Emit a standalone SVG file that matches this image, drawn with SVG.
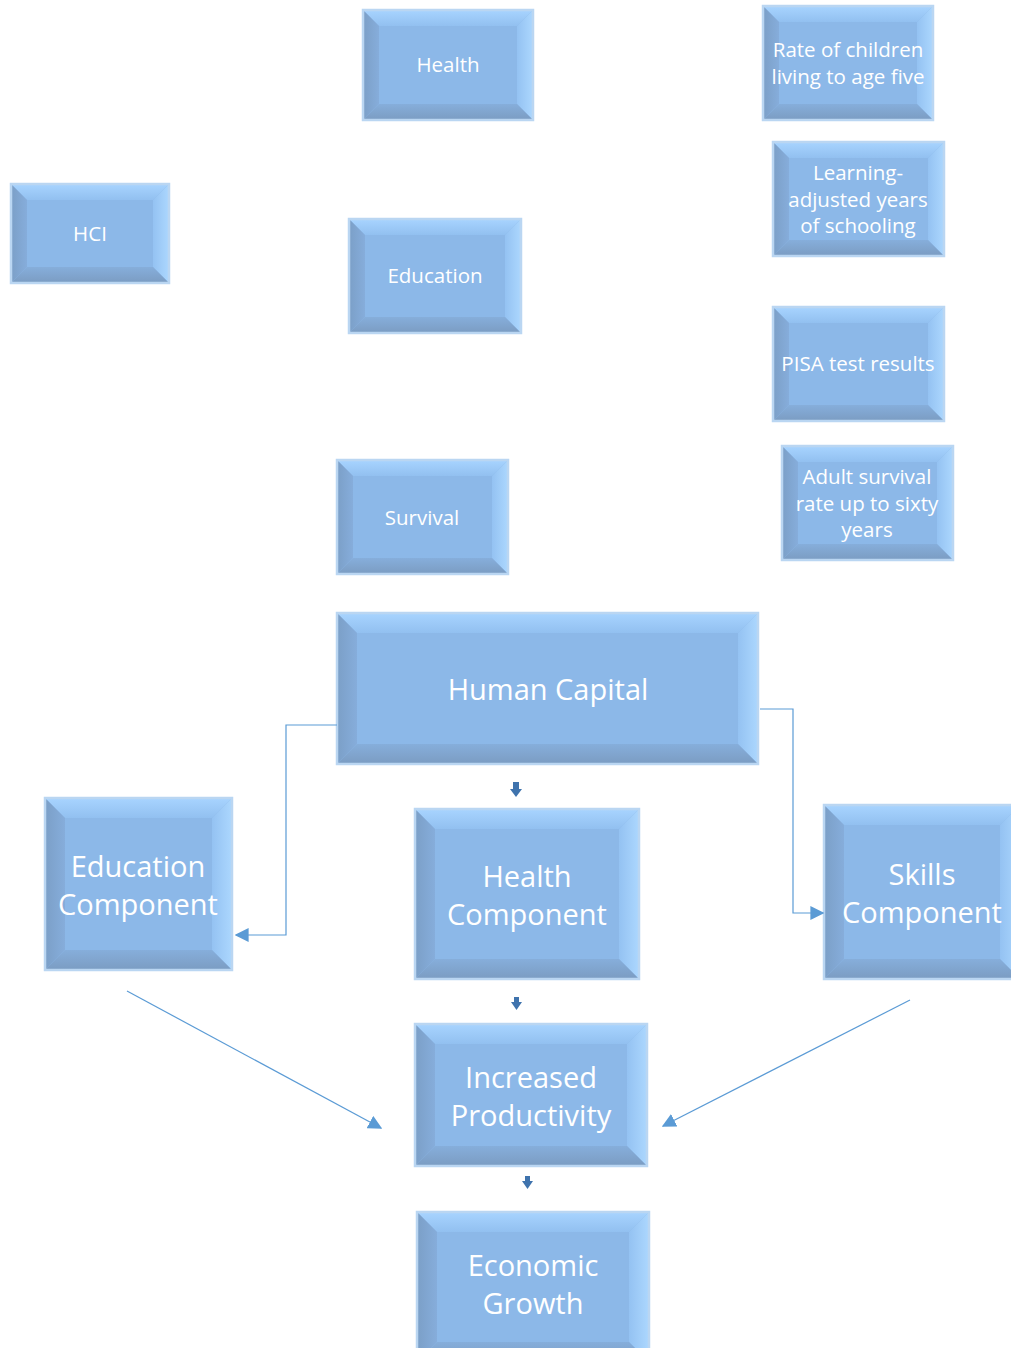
<svg xmlns="http://www.w3.org/2000/svg" width="1011" height="1348" viewBox="0 0 1011 1348">
<style>
.face{fill:#8cb8e8}
.brd{fill:none;stroke:#bad6f2;stroke-width:2.5}
.t{fill:url(#gt)}
.l{fill:url(#gl)}
.r{fill:url(#gr)}
.b{fill:url(#gb)}
.tx{fill:#ffffff;font-family:"Open Sans",Lato,sans-serif;text-anchor:middle;dominant-baseline:central}
.s{font-size:20.5px}
.g{font-size:29px}
.con{fill:none;stroke:#5b9bd5;stroke-width:1.2}
.blk{fill:#3f73ad}
</style>
<defs>
<linearGradient id="gt" x1="0" y1="0" x2="0" y2="1"><stop offset="0" stop-color="#a8d4ff"/><stop offset="1" stop-color="#92c0f0"/></linearGradient>
<linearGradient id="gl" x1="0" y1="0" x2="1" y2="0"><stop offset="0" stop-color="#7b9fc7"/><stop offset="1" stop-color="#86addb"/></linearGradient>
<linearGradient id="gr" x1="0" y1="0" x2="1" y2="0"><stop offset="0" stop-color="#94c2f2"/><stop offset="1" stop-color="#acd7fe"/></linearGradient>
<linearGradient id="gb" x1="0" y1="0" x2="0" y2="1"><stop offset="0" stop-color="#86aedb"/><stop offset="1" stop-color="#7b9cc2"/></linearGradient>
<marker id="ah" viewBox="0 0 10 10" refX="9" refY="5" markerWidth="14" markerHeight="14" markerUnits="userSpaceOnUse" orient="auto">
<path d="M0,0 L10,5 L0,10 Z" fill="#5b9bd5"/>
</marker>
</defs>

<g id="health">
<rect class="face" x="363" y="10" width="170" height="110"/>
<polygon class="t" points="363,10 533,10 517,26 379,26"/>
<polygon class="l" points="363,10 379,26 379,104 363,120"/>
<polygon class="r" points="533,10 533,120 517,104 517,26"/>
<polygon class="b" points="363,120 533,120 517,104 379,104"/>
<rect class="brd" x="363" y="10" width="170" height="110"/>
<text class="tx s" x="448" y="64">Health</text>
</g>

<g id="hci">
<rect class="face" x="11" y="184" width="158" height="99"/>
<polygon class="t" points="11,184 169,184 153,200 27,200"/>
<polygon class="l" points="11,184 27,200 27,267 11,283"/>
<polygon class="r" points="169,184 169,283 153,267 153,200"/>
<polygon class="b" points="11,283 169,283 153,267 27,267"/>
<rect class="brd" x="11" y="184" width="158" height="99"/>
<text class="tx s" x="90" y="233">HCI</text>
</g>

<g id="education">
<rect class="face" x="349" y="219" width="172" height="114"/>
<polygon class="t" points="349,219 521,219 505,235 365,235"/>
<polygon class="l" points="349,219 365,235 365,317 349,333"/>
<polygon class="r" points="521,219 521,333 505,317 505,235"/>
<polygon class="b" points="349,333 521,333 505,317 365,317"/>
<rect class="brd" x="349" y="219" width="172" height="114"/>
<text class="tx s" x="435" y="275">Education</text>
</g>

<g id="survival">
<rect class="face" x="337" y="460" width="171" height="114"/>
<polygon class="t" points="337,460 508,460 492,476 353,476"/>
<polygon class="l" points="337,460 353,476 353,558 337,574"/>
<polygon class="r" points="508,460 508,574 492,558 492,476"/>
<polygon class="b" points="337,574 508,574 492,558 353,558"/>
<rect class="brd" x="337" y="460" width="171" height="114"/>
<text class="tx s" x="422" y="517">Survival</text>
</g>

<g id="rate">
<rect class="face" x="763" y="6" width="170" height="114"/>
<polygon class="t" points="763,6 933,6 917,22 779,22"/>
<polygon class="l" points="763,6 779,22 779,104 763,120"/>
<polygon class="r" points="933,6 933,120 917,104 917,22"/>
<polygon class="b" points="763,120 933,120 917,104 779,104"/>
<rect class="brd" x="763" y="6" width="170" height="114"/>
<text class="tx s" x="848" y="49">Rate of children</text>
<text class="tx s" x="848" y="76">living to age five</text>
</g>

<g id="learning">
<rect class="face" x="773" y="142" width="171" height="114"/>
<polygon class="t" points="773,142 944,142 928,158 789,158"/>
<polygon class="l" points="773,142 789,158 789,240 773,256"/>
<polygon class="r" points="944,142 944,256 928,240 928,158"/>
<polygon class="b" points="773,256 944,256 928,240 789,240"/>
<rect class="brd" x="773" y="142" width="171" height="114"/>
<text class="tx s" x="858" y="172">Learning-</text>
<text class="tx s" x="858" y="199">adjusted years</text>
<text class="tx s" x="858" y="225">of schooling</text>
</g>

<g id="pisa">
<rect class="face" x="773" y="307" width="171" height="114"/>
<polygon class="t" points="773,307 944,307 928,323 789,323"/>
<polygon class="l" points="773,307 789,323 789,405 773,421"/>
<polygon class="r" points="944,307 944,421 928,405 928,323"/>
<polygon class="b" points="773,421 944,421 928,405 789,405"/>
<rect class="brd" x="773" y="307" width="171" height="114"/>
<text class="tx s" x="858" y="363">PISA test results</text>
</g>

<g id="adult">
<rect class="face" x="782" y="446" width="171" height="114"/>
<polygon class="t" points="782,446 953,446 937,462 798,462"/>
<polygon class="l" points="782,446 798,462 798,544 782,560"/>
<polygon class="r" points="953,446 953,560 937,544 937,462"/>
<polygon class="b" points="782,560 953,560 937,544 798,544"/>
<rect class="brd" x="782" y="446" width="171" height="114"/>
<text class="tx s" x="867" y="476">Adult survival</text>
<text class="tx s" x="867" y="503">rate up to sixty</text>
<text class="tx s" x="867" y="529">years</text>
</g>

<g id="human-capital">
<rect class="face" x="337" y="613" width="421" height="151"/>
<polygon class="t" points="337,613 758,613 738,633 357,633"/>
<polygon class="l" points="337,613 357,633 357,744 337,764"/>
<polygon class="r" points="758,613 758,764 738,744 738,633"/>
<polygon class="b" points="337,764 758,764 738,744 357,744"/>
<rect class="brd" x="337" y="613" width="421" height="151"/>
<text class="tx g" x="548" y="688">Human Capital</text>
</g>

<g id="education-component">
<rect class="face" x="45" y="798" width="187" height="172"/>
<polygon class="t" points="45,798 232,798 212,818 65,818"/>
<polygon class="l" points="45,798 65,818 65,950 45,970"/>
<polygon class="r" points="232,798 232,970 212,950 212,818"/>
<polygon class="b" points="45,970 232,970 212,950 65,950"/>
<rect class="brd" x="45" y="798" width="187" height="172"/>
<text class="tx g" x="138" y="865">Education</text>
<text class="tx g" x="138" y="903">Component</text>
</g>

<g id="health-component">
<rect class="face" x="415" y="809" width="224" height="170"/>
<polygon class="t" points="415,809 639,809 619,829 435,829"/>
<polygon class="l" points="415,809 435,829 435,959 415,979"/>
<polygon class="r" points="639,809 639,979 619,959 619,829"/>
<polygon class="b" points="415,979 639,979 619,959 435,959"/>
<rect class="brd" x="415" y="809" width="224" height="170"/>
<text class="tx g" x="527" y="875">Health</text>
<text class="tx g" x="527" y="913">Component</text>
</g>

<g id="skills-component">
<rect class="face" x="824" y="805" width="196" height="174"/>
<polygon class="t" points="824,805 1020,805 1000,825 844,825"/>
<polygon class="l" points="824,805 844,825 844,959 824,979"/>
<polygon class="r" points="1020,805 1020,979 1000,959 1000,825"/>
<polygon class="b" points="824,979 1020,979 1000,959 844,959"/>
<rect class="brd" x="824" y="805" width="196" height="174"/>
<text class="tx g" x="922" y="873">Skills</text>
<text class="tx g" x="922" y="911">Component</text>
</g>

<g id="increased-productivity">
<rect class="face" x="415" y="1024" width="232" height="142"/>
<polygon class="t" points="415,1024 647,1024 627,1044 435,1044"/>
<polygon class="l" points="415,1024 435,1044 435,1146 415,1166"/>
<polygon class="r" points="647,1024 647,1166 627,1146 627,1044"/>
<polygon class="b" points="415,1166 647,1166 627,1146 435,1146"/>
<rect class="brd" x="415" y="1024" width="232" height="142"/>
<text class="tx g" x="531" y="1076">Increased</text>
<text class="tx g" x="531" y="1114">Productivity</text>
</g>

<g id="economic-growth">
<rect class="face" x="417" y="1212" width="232" height="150"/>
<polygon class="t" points="417,1212 649,1212 629,1232 437,1232"/>
<polygon class="l" points="417,1212 437,1232 437,1342 417,1362"/>
<polygon class="r" points="649,1212 649,1362 629,1342 629,1232"/>
<polygon class="b" points="417,1362 649,1362 629,1342 437,1342"/>
<rect class="brd" x="417" y="1212" width="232" height="150"/>
<text class="tx g" x="533" y="1264">Economic</text>
<text class="tx g" x="533" y="1302">Growth</text>
</g>

<g id="connectors">
<polyline class="con" points="337,725 286,725 286,935 236,935" marker-end="url(#ah)"/>
<polyline class="con" points="760,709 793,709 793,913 823,913" marker-end="url(#ah)"/>
<line class="con" x1="127" y1="991" x2="381" y2="1128" marker-end="url(#ah)"/>
<line class="con" x1="910" y1="1000" x2="663" y2="1126" marker-end="url(#ah)"/>
<polygon class="blk" points="513,782 519,782 519,789 522,789 516,797 510,789 513,789"/>
<polygon class="blk" points="514,997 519,997 519,1002 522,1002 516.5,1010 511,1002 514,1002"/>
<polygon class="blk" points="525,1176 530,1176 530,1181 533,1181 527.5,1189 522,1181 525,1181"/>
</g>
</svg>
